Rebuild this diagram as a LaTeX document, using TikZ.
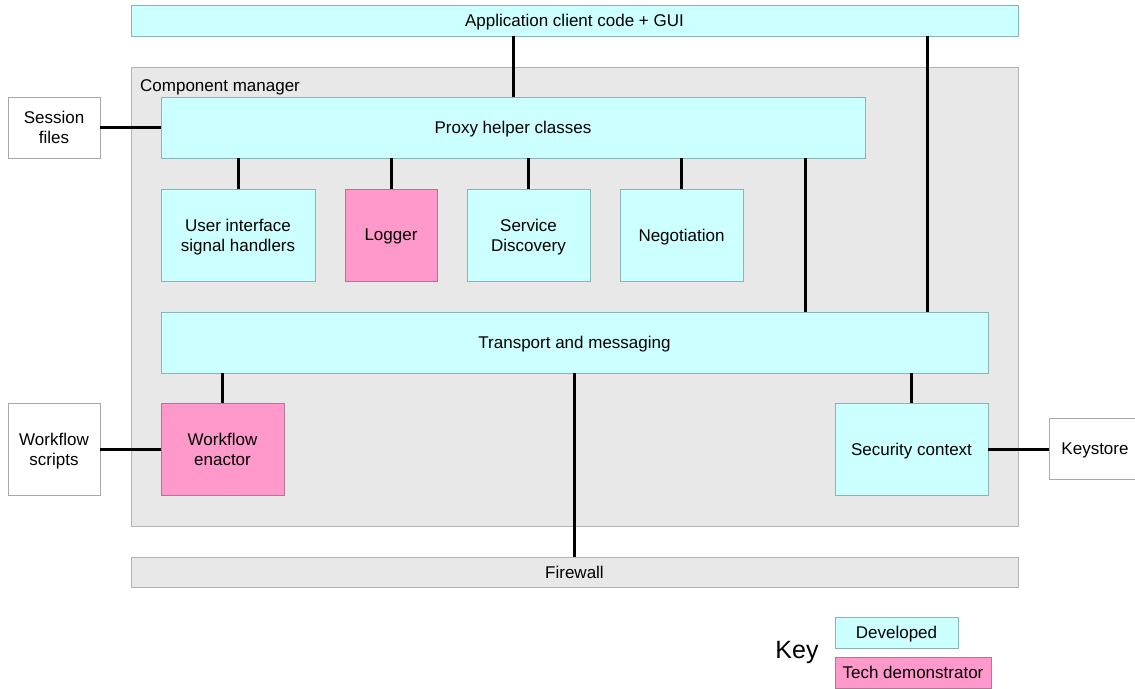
\documentclass[tikz,border=0pt]{standalone}
\usepackage{fontspec}
\setmainfont{Liberation Sans}
\begin{document}
\begin{tikzpicture}[x=1pt,y=-1pt,
  box/.style={draw, line width=0.9pt, inner sep=0pt, outer sep=0pt, align=center,
    text depth=0pt, font=\fontsize{17}{20}\selectfont},
  devbox/.style={box, fill=devfill, draw=devline},
  demobox/.style={box, fill=demofill, draw=demoline},
  greybox/.style={box, fill=greyfill, draw=greyline},
  extbox/.style={box, fill=white, draw=extline},
  conn/.style={line width=3pt, black}]
\definecolor{devfill}{HTML}{CCFFFF}
\definecolor{devline}{HTML}{88B4B4}
\definecolor{demofill}{HTML}{FF99CC}
\definecolor{demoline}{HTML}{B07890}
\definecolor{greyfill}{HTML}{E8E8E8}
\definecolor{greyline}{HTML}{B4B4B4}
\definecolor{extline}{HTML}{A8A8A8}
\useasboundingbox (0,0) rectangle (1135,688);
\clip (0,0) rectangle (1135,688);

% outer frames
\node[greybox, minimum width=887pt, minimum height=459pt] (cm) at (574.5,296.5) {};
\node[anchor=base west, font=\fontsize{17}{20}\selectfont, inner sep=0pt] (cmlabel) at (140,91.5) {Component manager};
\node[devbox, minimum width=887pt, minimum height=31pt] (app) at (574.5,20.5) {Application client code + GUI};
\node[greybox, minimum width=887pt, minimum height=30pt] (fw) at (574.5,572) {Firewall};

% inner components
\node[devbox, minimum width=704pt, minimum height=61pt] (proxy) at (513,127.5) {Proxy helper classes};
\node[devbox, minimum width=154pt, minimum height=92pt] (ui) at (238,235) {User interface\\signal handlers};
\node[demobox, minimum width=92pt, minimum height=92pt] (log) at (391,235) {Logger};
\node[devbox, minimum width=123pt, minimum height=92pt] (sd) at (528.5,235) {Service\\Discovery};
\node[devbox, minimum width=123pt, minimum height=92pt] (neg) at (681.5,235) {Negotiation};
\node[devbox, minimum width=827pt, minimum height=61pt] (trans) at (574.5,342.5) {Transport and messaging};
\node[demobox, minimum width=123pt, minimum height=92pt] (wf) at (222.5,449) {Workflow\\enactor};
\node[devbox, minimum width=153pt, minimum height=92pt] (sec) at (911.5,449) {Security context};

% external resources
\node[extbox, minimum width=92pt, minimum height=61pt] (sess) at (54,127.5) {Session\\files};
\node[extbox, minimum width=92pt, minimum height=92pt] (scr) at (54,449) {Workflow\\scripts};
\node[extbox, minimum width=92pt, minimum height=61pt] (ks) at (1095,449) {Keystore};

% legend
\node[font=\fontsize{25}{28}\selectfont, inner sep=0pt] (key) at (797,652) {Key};
\node[devbox, minimum width=123pt, minimum height=31pt] (kdev) at (896.5,632.5) {Developed};
\node[demobox, minimum width=156pt, minimum height=31pt, anchor=north west] (kdemo) at (835,657) {Tech demonstrator};

% connectors
\coordinate (xa) at (927,0);
\coordinate (xp) at (805,0);
\draw[conn] (app.south -| proxy.north) -- (proxy.north);
\draw[conn] (app.south -| xa) -- (trans.north -| xa);
\draw[conn] (sess.east) -- (proxy.west);
\draw[conn] (proxy.south -| ui.north) -- (ui.north);
\draw[conn] (proxy.south -| log.north) -- (log.north);
\draw[conn] (proxy.south -| sd.north) -- (sd.north);
\draw[conn] (proxy.south -| neg.north) -- (neg.north);
\draw[conn] (proxy.south -| xp) -- (trans.north -| xp);
\draw[conn] (trans.south -| wf.north) -- (wf.north);
\draw[conn] (trans.south -| sec.north) -- (sec.north);
\draw[conn] (trans.south -| fw.north) -- (fw.north);
\draw[conn] (scr.east) -- (wf.west);
\draw[conn] (sec.east) -- (ks.west);
\end{tikzpicture}
\end{document}
